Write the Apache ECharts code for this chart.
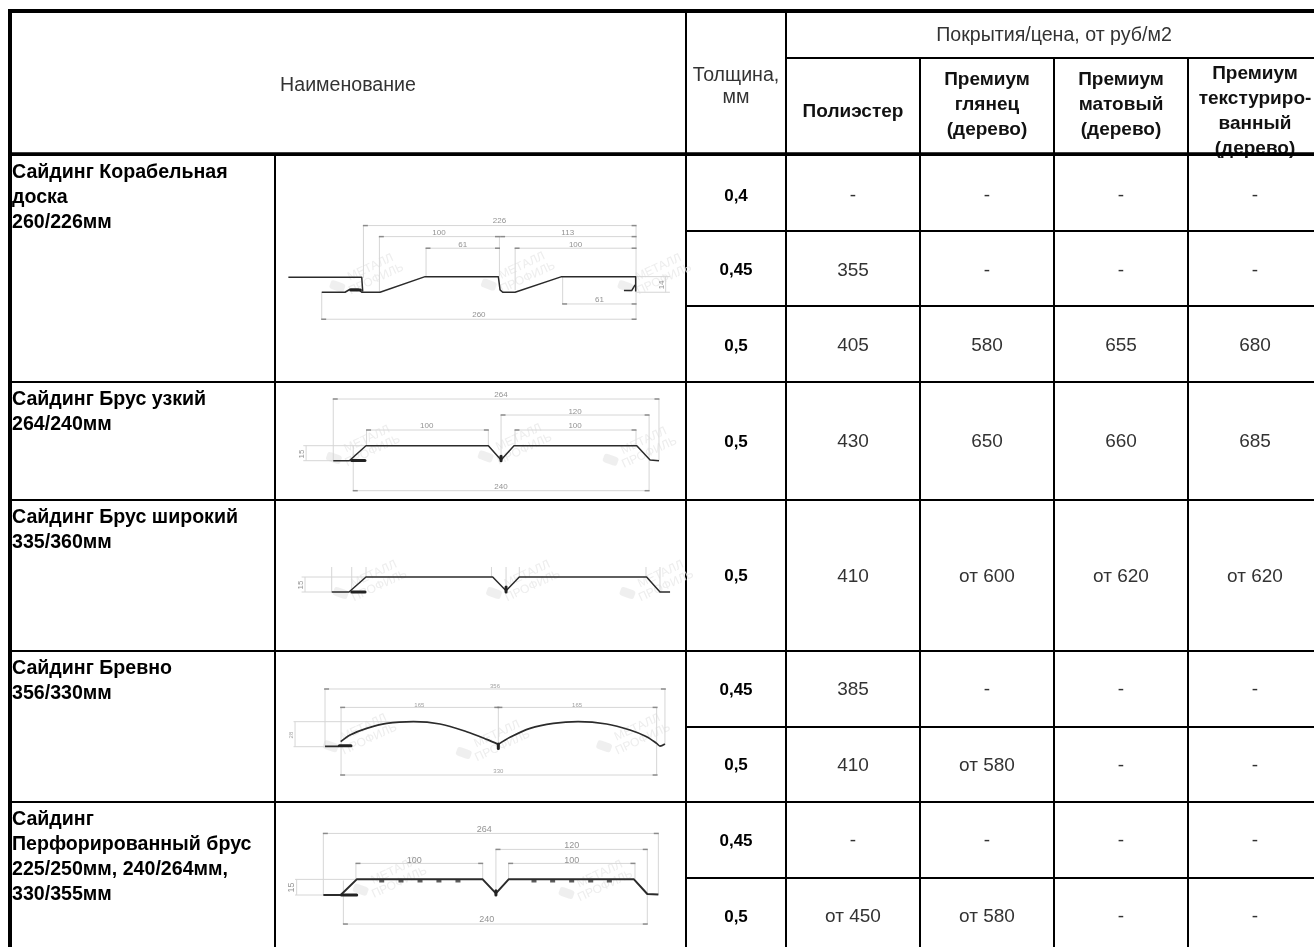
<!DOCTYPE html>
<html><head><meta charset="utf-8">
<style>html,body{margin:0;padding:0;background:#fff}#c{width:1314px;height:947px}</style>
<script src="https://cdn.jsdelivr.net/npm/echarts@6/dist/echarts.min.js"></script>
</head><body><div id="c"></div>
<script>
// ---------- table content ----------
const nameHeader = 'Наименование';
const thicknessHeader = 'Толщина,\nмм';
const coatingGroup = 'Покрытия/цена, от руб/м2';
const coatings = ['Полиэстер', 'Премиум\nглянец\n(дерево)', 'Премиум\nматовый\n(дерево)', 'Премиум\nтекстуриро-\nванный\n(дерево)'];
const products = ['Сайдинг Корабельная\nдоска\n260/226мм', 'Сайдинг Брус узкий\n264/240мм', 'Сайдинг Брус широкий\n335/360мм', 'Сайдинг Бревно\n356/330мм', 'Сайдинг\nПерфорированный брус\n225/250мм, 240/264мм,\n330/355мм'];
const productRowCounts = [3, 1, 1, 2, 2];
const thickness = ['0,4', '0,45', '0,5', '0,5', '0,5', '0,45', '0,5', '0,45', '0,5'];
const polyester = ['-', '355', '405', '430', '410', '385', '410', '-', 'от 450'];
const glossy = ['-', '-', '580', '650', 'от 600', '-', 'от 580', '-', 'от 580'];
const matte = ['-', '-', '655', '660', 'от 620', '-', '-', '-', '-'];
const textured = ['-', '-', '680', '685', 'от 620', '-', '-', '-', '-'];

// ---------- profile drawings, in millimetres of the profile ----------
const p1Lines = [
  [[-27.6,13.5],[33.1,13.5],[33.9,0.6]],
  [[0,0],[19.3,0],[23.4,2.7],[30.3,2.7],[33.1,0],[48.2,0],[85.5,14],[146.1,14],[147.5,2.1],[149.7,0],[159.9,0],[198.5,14],[259.7,14],[259.7,0.6]],
  [[250,1.5],[256.4,1.5],[259.2,6.6]]
];
const p1Thick = [[[24,2],[32,2]]];
const p1Dims = [[34.5,59.8,260,59.8],[47.7,49.9,147,49.9],[148,49.9,260,49.9],[86.3,39.5,147,39.5],[160,39.5,260,39.5],[199.3,-10.5,260,-10.5],[0,-24.2,260,-24.2]];
const p1Ext = [[34.5,59.8,34.5,13],[47.7,49.9,47.7,0],[86.3,39.5,86.3,14],[147,49.9,147,14],[160,39.5,160,2],[260,59.8,260,-24.2],[199.3,14,199.3,-10.5],[0,0,0,-24.2],[260,14,288,14],[260,0,288,0],[284.5,0,284.5,14]];
const p1Labels = [[147,64,'226'],[97,53.5,'100'],[203.5,53.5,'113'],[116.6,43,'61'],[210,43,'100'],[229.7,-7,'61'],[130,-20,'260']];
const p1SideLabels = [[281,6.6,'14']];
const p1Marks = [[42.7,17],[168,18.5],[281,17]];

const p2Lines = [[[0,0],[13,0],[26.5,15],[125.7,15],[136,0.7],[146.5,15],[246,15],[256.8,0.7],[264,0]]];
const p2Thick = [[[14.9,0.3],[25.7,0.3]],[[136,4.5],[136,0]]];
const p2Dims = [[0,61.7,264,61.7],[136,45.7,256,45.7],[27,30.7,125.7,30.7],[147.3,30.7,245.4,30.7],[16.2,-30,256,-30]];
const p2Ext = [[0,61.7,0,0],[264,61.7,264,0],[136,45.7,136,0],[256,45.7,256,-30],[16.2,15,16.2,-30],[27,30.7,27,15],[125.7,30.7,125.7,15],[147.3,30.7,147.3,15],[245.4,30.7,245.4,15],[-24.3,15,26,15],[-24.3,0,0,0],[-22,0,-22,15]];
const p2Labels = [[136,65.7,'264'],[196,49,'120'],[75.7,35,'100'],[196,35,'100'],[136,-26,'240']];
const p2SideLabels = [[-25.4,6.7,'15']];
const p2Marks = [[29.7,15.7],[152.7,17.3],[254,14]];

const p3Lines = [[[0,0],[18.4,0],[36.5,15],[171.3,15],[185.5,1.3],[199.6,15],[335,15],[349.3,0],[360,0]]];
const p3Thick = [[[21.3,0],[35.5,0]],[[185.5,5],[185.5,0]]];
const p3Dims = [];
const p3Ext = [[0,25,0,0],[21.3,25,21.3,0],[36.5,25,36.5,15],[170,25,170,15],[185.5,25,185.5,5],[199.6,25,199.6,15],[334.4,25,334.4,15],[349.3,25,349.3,0],[-32,15,36,15],[-32,0,0,0],[-28.4,0,-28.4,15]];
const p3Labels = [];
const p3SideLabels = [[-33,7,'15']];
const p3Marks = [[47.9,12],[211,12],[353,12]];

const p4Lines = [
  [[0,0.4],[14.7,0.4]],
  [[16.4,5.6],[26.2,13.1],[43.6,20.5],[64.6,26.1],[92.5,28],[120.4,25.4],[148.3,16.8],[169.3,8.2],[181.5,2.6]],
  [[181.5,2.6],[193.7,10.5],[214.7,20.5],[239.1,26.1],[265,28],[294.9,25.4],[319.4,18.7],[336.8,11.2],[347.3,3.7],[350.8,0.7],[356,3]]
];
const p4Thick = [[[15,1.1],[27.2,1.1]],[[181.5,3],[181.5,-2]]];
const p4Dims = [[0,64.6,356,64.6],[16.8,44,181.5,44],[181.5,44,347.3,44],[16.8,-31.7,347.3,-31.7]];
const p4Ext = [[0,64.6,0,0],[356,64.6,356,2],[16.8,44,16.8,-31.7],[181.5,44,181.5,3],[347.3,44,347.3,-31.7],[-33,28,92,28],[-33,0,0,0],[-31.4,0,-31.4,28]];
const p4Labels = [[178,68,'356'],[98.8,46.7,'165'],[264,46.7,'165'],[181.5,-28,'330']];
const p4SideLabels = [[-35,13,'28']];
const p4Marks = [[43.6,15],[183,7.5],[330,15]];

const p5Lines = [[[0,0],[13.7,0],[26.3,15],[125.6,15],[136,1.6],[146,15],[244.8,15],[255.3,1],[264,0.6]]];
const p5Thick = [[[14.4,0],[26.3,0]],[[136,4],[136,0]]];
const p5Dims = [[0,59,264,59],[136,43.7,255.3,43.7],[25.7,30.3,125.6,30.3],[146,30.3,245.6,30.3],[15.8,-27.8,255.3,-27.8]];
const p5Ext = [[0,59,0,0],[264,59,264,0],[136,43.7,136,2],[255.3,43.7,255.3,-27.8],[15.8,14,15.8,-27.8],[25.7,30.3,25.7,15],[125.6,30.3,125.6,15],[146,30.3,146,15],[245.6,30.3,245.6,15],[-22.3,15,26,15],[-22.3,0,0,0],[-21,0,-21,15]];
const p5Labels = [[126.9,63,'264'],[195.7,47,'120'],[71.7,33.5,'100'],[195.7,33.5,'100'],[128.7,-23.3,'240']];
const p5SideLabels = [[-25,7.3,'15']];
const p5Marks = [[57.8,17.6],[220,14.4]];
const p5Perforations = [[46,13.2],[61.2,13.2],[76.2,13.2],[91.1,13.2],[106.1,13.2],[166,13.2],[180.7,13.2],[195.7,13.2],[210.7,13.2],[225.4,13.2]];

// ---------- layout ----------
const colSizes = [265.5, 411, 100, 134, 134, 134, 134];
const rowSizes = [47, 97, 76, 75, 76, 118, 151, 76, 75, 76, 76];
const rowTextShift = [3, 2, 2, 1, 1, 1, 1, 1, 1];
const coatingTextShift = [5, -2, -2, 4.5];
const drawingViews = [
  {top:156, height:225, xMin:-37,   xMax:300.5, yMin:-79.6, yMax:122.2, font:8,  textColor:'#777', line:1.5},
  {top:383, height:117, xMin:-45.6, xMax:285.1, yMin:-39.3, yMax:77.7,  font:8,  textColor:'#777', line:1.5},
  {top:502, height:149, xMin:-58.2, xMax:375.9, yMin:-59,   yMax:90,    font:8,  textColor:'#777', line:1.5},
  {top:653, height:148, xMin:-50.3, xMax:377,   yMin:-60.8, yMax:104.9, font:6,  textColor:'#888', line:1.7},
  {top:804, height:143, xMin:-36.5, xMax:285,   yMin:-49.8, yMax:87.2,  font:9,  textColor:'#777', line:2}
];
const drawings = [
  {lines:p1Lines, thick:p1Thick, dims:p1Dims, ext:p1Ext, labels:p1Labels, side:p1SideLabels, marks:p1Marks},
  {lines:p2Lines, thick:p2Thick, dims:p2Dims, ext:p2Ext, labels:p2Labels, side:p2SideLabels, marks:p2Marks},
  {lines:p3Lines, thick:p3Thick, dims:p3Dims, ext:p3Ext, labels:p3Labels, side:p3SideLabels, marks:p3Marks},
  {lines:p4Lines, thick:p4Thick, dims:p4Dims, ext:p4Ext, labels:p4Labels, side:p4SideLabels, marks:p4Marks, smooth:true},
  {lines:p5Lines, thick:p5Thick, dims:p5Dims, ext:p5Ext, labels:p5Labels, side:p5SideLabels, marks:p5Marks, holes:p5Perforations}
];

// ---------- build table cells ----------
const FONT = '"Liberation Sans", Arial, sans-serif';
const free = {overflow:'none', lineOverflow:'none'};
const headRegular = Object.assign({fontFamily:FONT, fontSize:19.6, color:'#333', lineHeight:22}, free);
const headBold = Object.assign({fontFamily:FONT, fontSize:19, fontWeight:'bold', color:'#111', lineHeight:25}, free);
const priceStyle = Object.assign({fontFamily:FONT, fontSize:19, color:'#333', lineHeight:22}, free);
const thickStyle = Object.assign({fontFamily:FONT, fontSize:17, fontWeight:'bold', color:'#000', lineHeight:22}, free);
const nameStyle = Object.assign({fontFamily:FONT, fontSize:19.6, fontWeight:'bold', color:'#000', lineHeight:25,
  position:'insideTopLeft', align:'left', verticalAlign:'top', distance:0, padding:[5,0,0,2]}, free);
// centred text, moved dy pixels down from the middle of a cell that is cellH tall
const shifted = (style, text, cellH, dy) => {
  const block = text.split('\n').length * style.lineHeight;
  return Object.assign({}, style, {position:'insideTop', distance:0, align:'center', verticalAlign:'top', padding:[(cellH-block)/2+dy,0,0,0]});
};

const cells = [];
const headH = rowSizes[0]+rowSizes[1];
const put = (coord, text, style, cellH, dy, merge) =>
  cells.push({coord, mergeCells:!!merge, value:text, label:shifted(style,text,cellH,dy)});
put([[0,1],[0,1]], nameHeader, headRegular, headH, 2.5, true);
put([2,[0,1]], thicknessHeader, headRegular, headH, 4, true);
put([[3,6],0], coatingGroup, headRegular, rowSizes[0], 1, true);
coatings.forEach((c,i)=>put([3+i,1], c, headBold, rowSizes[1], coatingTextShift[i]));
let r = 2;
products.forEach((p,i)=>{
  const n = productRowCounts[i];
  const ry = n>1 ? [r, r+n-1] : r;
  cells.push({coord:[0,ry], mergeCells:n>1, value:p, label:nameStyle});
  cells.push({coord:[1,ry], mergeCells:n>1, value:' '});
  r += n;
});
thickness.forEach((t,i)=>put([2,2+i], t, thickStyle, rowSizes[2+i], rowTextShift[i]));
[polyester, glossy, matte, textured].forEach((col,ci)=>col.forEach((v,i)=>
  put([3+ci,2+i], v, priceStyle, rowSizes[2+i], rowTextShift[i])));

// ---------- build drawing series ----------
const grids=[], xAxes=[], yAxes=[], series=[];
const segs = list => { const o=[]; list.forEach(s=>{o.push([s[0],s[1]],[s[2],s[3]],[NaN,NaN]);}); return o; };
drawings.forEach((d,i)=>{
  const v = drawingViews[i];
  grids.push({left:277, width:408, top:v.top, height:v.height, containLabel:false});
  xAxes.push({type:'value', gridIndex:i, min:v.xMin, max:v.xMax, show:false});
  yAxes.push({type:'value', gridIndex:i, min:v.yMin, max:v.yMax, show:false});
  const base = {xAxisIndex:i, yAxisIndex:i, silent:true, animation:false};
  series.push(Object.assign({}, base, {type:'scatter', symbol:'roundRect', symbolSize:[15,9], symbolRotate:-20, symbolOffset:[-36,13], z:2,
    itemStyle:{color:'#ebebeb'}, data:d.marks}));
  series.push(Object.assign({}, base, {type:'scatter', symbolSize:0, z:2, data:d.marks.map(m=>({value:m})),
    label:{show:true, position:'inside', rotate:25, formatter:'МЕТАЛЛ\nПРОФИЛЬ', fontFamily:FONT, fontSize:12, color:'#e8e8e8', lineHeight:13}}));
  series.push(Object.assign({}, base, {type:'line', symbol:'none', z:3, connectNulls:false, data:segs(d.ext.concat(d.dims)),
    lineStyle:{color:'#d6d6d6', width:1}}));
  series.push(Object.assign({}, base, {type:'scatter', symbol:'rect', symbolSize:[5,1.5], z:4, itemStyle:{color:'#777'},
    data:d.dims.flatMap(s=>[[s[0]+1.6,s[1]],[s[2]-1.6,s[3]]])}));
  series.push(Object.assign({}, base, {type:'scatter', symbolSize:0, z:5, data:d.labels.map(l=>({value:[l[0],l[1]], name:l[2]})),
    label:{show:true, position:'inside', formatter:'{b}', fontFamily:FONT, fontSize:v.font, color:v.textColor}}));
  series.push(Object.assign({}, base, {type:'scatter', symbolSize:0, z:5, data:d.side.map(l=>({value:[l[0],l[1]], name:l[2]})),
    label:{show:true, position:'inside', rotate:90, formatter:'{b}', fontFamily:FONT, fontSize:v.font, color:v.textColor}}));
  d.lines.forEach(pts=>series.push(Object.assign({}, base, {type:'line', symbol:'none', z:6, data:pts, smooth:d.smooth?0.3:false,
    lineStyle:{color:'#2b2b2b', width:v.line, join:'round'}})));
  d.thick.forEach(pts=>series.push(Object.assign({}, base, {type:'line', symbol:'none', z:6, data:pts,
    lineStyle:{color:'#222', width:3, cap:'round'}})));
  if (d.holes) series.push(Object.assign({}, base, {type:'scatter', symbol:'rect', symbolSize:[5,2.5], z:6, data:d.holes, itemStyle:{color:'#333'}}));
});

// heavier rule under the header, on an axis measured along the table
const tableW = colSizes.reduce((a,b)=>a+b,0), tableH = rowSizes.reduce((a,b)=>a+b,0);
const ruleIdx = drawings.length;
grids.push({left:9.5, top:11, width:tableW, height:tableH});
xAxes.push({type:'value', gridIndex:ruleIdx, min:0, max:tableW, show:false});
yAxes.push({type:'value', gridIndex:ruleIdx, min:0, max:tableH, inverse:true, show:false});
series.push({type:'line', xAxisIndex:ruleIdx, yAxisIndex:ruleIdx, symbol:'none', silent:true, z:20, clip:false,
  data:[[0,headH],[tableW,headH]], lineStyle:{color:'#000', width:3.4}});

const chart = echarts.init(document.getElementById('c'), null, {renderer:'canvas', width:1314, height:947});
chart.setOption({
  animation:false,
  backgroundColor:'#fff',
  matrix:{
    left:9.5, top:11, width:tableW, height:tableH,
    x:{show:false, data:colSizes.map((s,i)=>({value:'c'+i, size:s}))},
    y:{show:false, data:rowSizes.map((s,i)=>({value:'r'+i, size:s}))},
    corner:{show:false},
    backgroundStyle:{color:'#fff', borderColor:'#000', borderWidth:4},
    body:{itemStyle:{color:'#fff', borderColor:'#000', borderWidth:2}, label:{show:true, color:'#333', fontFamily:FONT}, data:cells}
  },
  grid:grids, xAxis:xAxes, yAxis:yAxes, series:series
});
</script></body></html>
